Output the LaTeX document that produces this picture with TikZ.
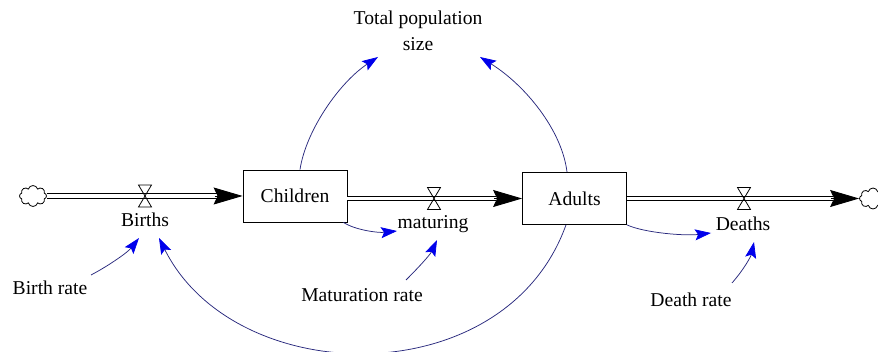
\documentclass[tikz,border=0pt]{standalone}
\usepackage{fontspec}
\setmainfont{Liberation Serif}
\usetikzlibrary{arrows.meta,shapes.symbols,calc}
\definecolor{linkc}{RGB}{40,40,125}
\definecolor{tipc}{RGB}{0,0,235}
\begin{document}
\begin{tikzpicture}[x=1pt,y=-1pt, font=\fontsize{19.6}{25.5}\selectfont,
  stock/.style={draw, line width=0.8pt, minimum width=104pt, minimum height=52pt, inner sep=0pt},
  lbl/.style={inner sep=1pt},
  pipe/.style={double distance=3.6pt, line width=0.9pt, shorten >=26pt},
  pipetip/.style={-{Stealth[length=29pt,width=17pt,inset=4pt]}, line width=0.9pt},
  link/.style={draw=linkc, line width=0.75pt, -{Stealth[length=16pt,width=11pt,inset=3pt,fill=tipc,color=tipc]}},
  cloudy/.style={cloud, cloud puffs=8, aspect=1.3, draw, line width=0.8pt, minimum width=27pt, minimum height=21pt, inner sep=0pt},
  valve/.pic={\draw[line width=0.8pt] (-6.5,-11) -- (6.5,-11) -- (-6.5,11) -- (6.5,11) -- cycle;}]
\useasboundingbox (0,0) rectangle (878,352);
% stocks and clouds
\node[cloudy] (cL) at (33,196) {};
\node[cloudy] (cR) at (873,198.5) {};
\node[stock] (children) at (295,196) {Children};
\node[stock] (adults) at (574.5,198.5) {Adults};
% pipes
\draw[pipe] (cL) -- (children.west);
\draw[pipetip] ([xshift=-28pt]children.west) -- (children.west);
\draw[pipe] (children.east |- adults.west) -- (adults.west);
\draw[pipetip] ([xshift=-28pt]adults.west) -- (adults.west);
\draw[pipe] (adults.east) -- (cR.west |- adults.east);
\draw[pipetip] ([xshift=-28pt]cR.west |- adults.east) -- (cR.west |- adults.east);
% valves
\pic at (145,196) {valve};
\pic at (434,198.5) {valve};
\pic at (744,198.5) {valve};
% labels
\node[lbl] (births) at (145,220) {Births};
\node[lbl] (maturing) at (433,224) {maturing};
\node[lbl] (deaths) at (743,224) {Deaths};
\node[lbl, align=center] (total) at (418,31) {Total population\\size};
\node[lbl] (birthrate) at (50,288) {Birth rate};
\node[lbl] (matrate) at (362,295) {Maturation rate};
\node[lbl] (deathrate) at (691,300) {Death rate};
% links
\draw[link] ([xshift=5pt]children.north) .. controls (306,130) and (340,82) .. ($(total)+(-40,26)$);
\draw[link] ([xshift=-7.5pt]adults.north) .. controls (562,130) and (525,85) .. ($(total)+(62,26)$);
\draw[link] ([xshift=-4pt]children.south east) .. controls (355,230) and (378,233) .. ($(maturing)+(-36,7)$);
\draw[link] (adults.south east) .. controls (645,233) and (685,236) .. ($(deaths)+(-32,9)$);
\draw[link] ($(birthrate)+(41,-13)$) .. controls (110,265) and (128,252) .. ($(births)+(-6,18)$);
\draw[link] ([xshift=-8.5pt]adults.south) .. controls (505,395) and (235,390) .. ($(births)+(14,18)$);
\draw[link] ($(matrate)+(44,-15)$) .. controls (418,268) and (430,255) .. ($(maturing)+(4,16)$);
\draw[link] ($(deathrate)+(41,-17)$) .. controls (745,268) and (751,256) .. ($(deaths)+(11,18)$);
\end{tikzpicture}
\end{document}
